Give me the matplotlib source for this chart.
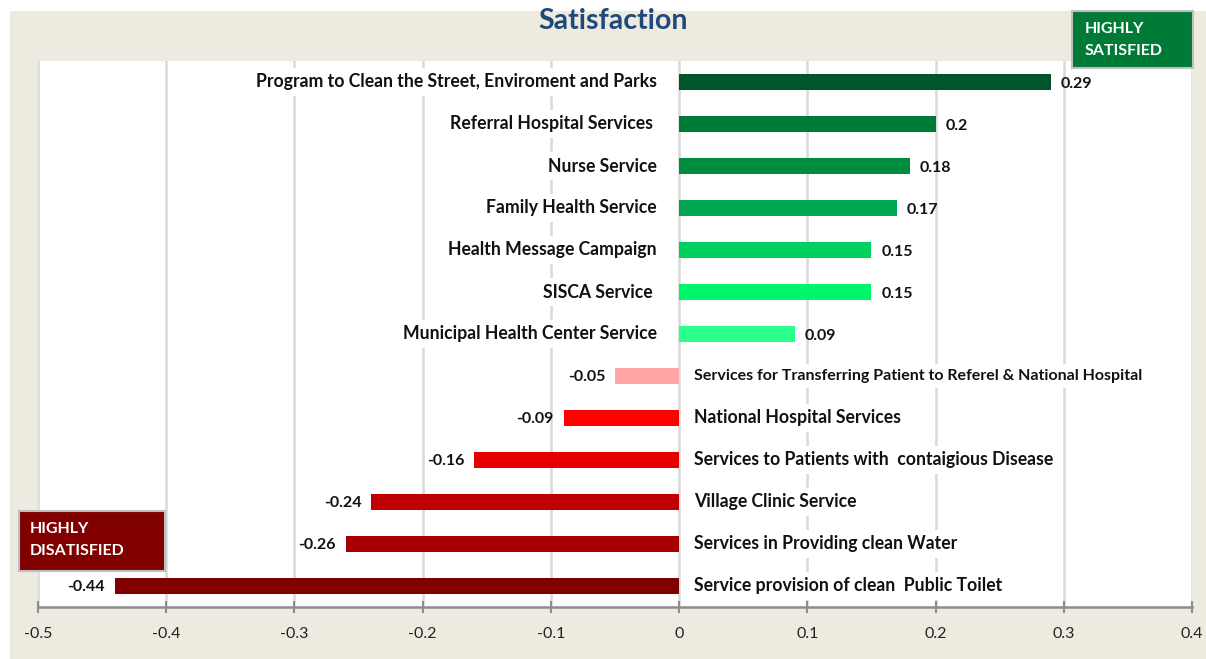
import matplotlib.pyplot as plt
from matplotlib.patches import Rectangle

# -------------------------------
# Dados
# -------------------------------
categories = [
    "Program to Clean the Street, Enviroment and Parks",
    "Referral Hospital Services ",
    "Nurse Service",
    "Family Health Service",
    "Health Message Campaign",
    "SISCA Service ",
    "Municipal Health Center Service",
    "Services for Transferring Patient to Referel & National Hospital",
    "National Hospital Services",
    "Services to Patients with  contaigious Disease",
    "Village Clinic Service",
    "Services in Providing clean Water",
    "Service provision of clean  Public Toilet",
]
values = [0.29, 0.2, 0.18, 0.17, 0.15, 0.15, 0.09,
          -0.05, -0.09, -0.16, -0.24, -0.26, -0.44]
bar_colors = ["#00562A", "#007A37", "#008C3F", "#00A550", "#00D060", "#00F56A", "#28FF8C",
              "#FFA5A5", "#FF0000", "#E60000", "#C00000", "#A80000", "#800000"]
x_ticks = [-0.5, -0.4, -0.3, -0.2, -0.1, 0, 0.1, 0.2, 0.3, 0.4]
x_tick_labels = ["-0.5", "-0.4", "-0.3", "-0.2", "-0.1", "0", "0.1", "0.2", "0.3", "0.4"]

plt.rcParams['font.family'] = ['Lato', 'DejaVu Sans']

W, H = 1206, 659
fig = plt.figure(figsize=(W / 100, H / 100), dpi=100, facecolor="white")

# fundo bege
fig.patches.append(Rectangle((10 / W, 0), 1 - 10 / W, 1 - 11 / H, transform=fig.transFigure,
                             facecolor="#EDEAE0", edgecolor="none", zorder=-1))

ax = fig.add_axes([38 / W, 1 - 607 / H, (1192 - 38) / W, (607 - 61) / H])
ax.set_zorder(1)
ax.set_facecolor("white")

ypos = list(range(len(categories)))
ax.barh(ypos, values, height=0.4, color=bar_colors, zorder=3)

ax.set_xlim(-0.5, 0.4)
ax.set_ylim(len(categories) - 0.5, -0.5)
ax.set_xticks(x_ticks)
ax.set_xticklabels(x_tick_labels, fontsize=11.5, color="#222222")
ax.set_yticks([])
ax.grid(axis="x", color="#D9D9D9", linewidth=1.8, zorder=0)
ax.set_axisbelow(True)
for s in ["left", "top", "right"]:
    ax.spines[s].set_visible(False)
ax.spines["bottom"].set_color("#8C8C8C")
ax.spines["bottom"].set_linewidth(1.8)
ax.tick_params(axis="x", direction="inout", length=9, width=1.5, color="#8C8C8C", pad=10)

# rótulos das categorias e valores
for i, (cat, v) in enumerate(zip(categories, values)):
    if v >= 0:
        ax.annotate(cat, (0, i), xytext=(-16, 0), textcoords="offset points",
                    ha="right", va="center", fontsize=12.7, fontweight="bold", color="#111111",
                    bbox=dict(boxstyle="square,pad=0.3", fc="white", ec="none"), zorder=2)
        ax.annotate(f"{v:g}", (v, i), xytext=(7, -1.5), textcoords="offset points",
                    ha="left", va="center", fontsize=11.5, fontweight="bold", color="#111111", zorder=4)
    else:
        # o rótulo mais longo é um pouco mais estreito no original
        size = 11.5 if len(cat) > 60 else 12.7
        ax.annotate(cat, (0, i), xytext=(11, 0), textcoords="offset points",
                    ha="left", va="center", fontsize=size, fontweight="bold", color="#111111",
                    bbox=dict(boxstyle="square,pad=0.3", fc="white", ec="none"), zorder=2)
        ax.annotate(f"{v:g}", (v, i), xytext=(-7, -1), textcoords="offset points",
                    ha="right", va="center", fontsize=11.5, fontweight="bold", color="#111111", zorder=4)

# título
fig.text(613 / W, 1 - 21 / H, "Satisfaction", ha="center", va="center",
         fontsize=20.5, fontweight="bold", color="#1F497D")

# caixas de destaque
fig.patches.append(Rectangle((1072 / W, 1 - 68 / H), 121 / W, 57 / H, transform=fig.transFigure,
                             facecolor="#007A37", edgecolor="#BFBFBF", linewidth=1.5, zorder=5))
fig.text(1085 / W, 1 - 40 / H, "HIGHLY\nSATISFIED", ha="left", va="center",
         fontsize=11.5, fontweight="bold", color="white", linespacing=1.75, zorder=6)
fig.patches.append(Rectangle((19 / W, 1 - 571 / H), 146 / W, 60 / H, transform=fig.transFigure,
                             facecolor="#800000", edgecolor="#BFBFBF", linewidth=1.5, zorder=5))
fig.text(30 / W, 1 - 540 / H, "HIGHLY\nDISATISFIED", ha="left", va="center",
         fontsize=11.5, fontweight="bold", color="white", linespacing=1.75, zorder=6)

plt.savefig("out.png", dpi=100, facecolor=fig.get_facecolor())
